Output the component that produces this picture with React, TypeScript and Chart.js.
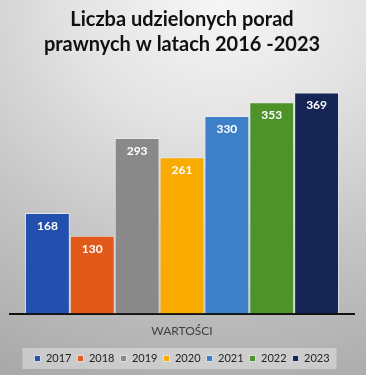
import React, { useEffect, useRef } from "react";
import { Chart, registerables } from "chart.js";

Chart.register(...registerables);

const categories = ["WARTOŚCI"];
const seriesNames = ["2017", "2018", "2019", "2020", "2021", "2022", "2023"];
const seriesValues = [168, 130, 293, 261, 330, 353, 369];
const seriesColors = ["#2350AE", "#E15A1A", "#898989", "#F9AB00", "#3E80C8", "#4E922A", "#152654"];
const titleLines = ["Liczba udzielonych porad", "prawnych w latach 2016 -2023"];

const FONT = "Lato, 'Open Sans', sans-serif";

const valueLabels = {
  id: "valueLabels",
  afterDatasetsDraw(chart: any) {
    const ctx = chart.ctx;
    ctx.save();
    ctx.fillStyle = "#ffffff";
    ctx.font = `bold 12px ${FONT}`;
    ctx.textAlign = "center";
    ctx.textBaseline = "middle";
    chart.data.datasets.forEach((ds: any, i: number) => {
      const meta = chart.getDatasetMeta(i);
      meta.data.forEach((bar: any, j: number) => {
        ctx.fillText(String(ds.data[j]), bar.x, bar.y + 13);
      });
    });
    ctx.restore();
  },
};

const legendBg = {
  id: "legendBg",
  beforeDraw(chart: any) {
    const lg = chart.legend;
    if (!lg || !lg.legendHitBoxes || !lg.legendHitBoxes.length) return;
    const boxes = lg.legendHitBoxes;
    const left = Math.min(...boxes.map((b: any) => b.left)) - 12;
    const right = Math.max(...boxes.map((b: any) => b.left + b.width)) + 7;
    const top = Math.min(...boxes.map((b: any) => b.top)) - 5;
    const bottom = Math.max(...boxes.map((b: any) => b.top + b.height)) + 5;
    const ctx = chart.ctx;
    ctx.save();
    ctx.fillStyle = "rgba(255,255,255,0.35)";
    ctx.fillRect(left, top, right - left, bottom - top);
    ctx.restore();
  },
};

export default function App() {
  const ref = useRef<HTMLCanvasElement | null>(null);
  useEffect(() => {
    if (!ref.current) return;
    const chart = new Chart(ref.current, {
      type: "bar",
      data: {
        labels: categories,
        datasets: seriesNames.map((name, i) => ({
          label: name,
          data: [seriesValues[i]],
          backgroundColor: seriesColors[i],
          borderColor: "rgba(235,235,235,0.8)",
          borderWidth: 1,
          barPercentage: 1,
          categoryPercentage: 0.913,
        })),
      },
      options: {
        animation: false,
        responsive: false,
        maintainAspectRatio: false,
        layout: { padding: { left: 10, right: 12, top: 0, bottom: 1 } },
        scales: {
          x: {
            grid: { display: false },
            border: { display: true, color: "#111111", width: 2 },
            ticks: { color: "#404040", font: { family: FONT, size: 12 }, padding: 2 },
            afterFit(scale: any) {
              scale.height += 7;
            },
          },
          y: { display: false, min: 0, max: 400 },
        },
        plugins: {
          title: {
            display: true,
            text: titleLines,
            color: "#111111",
            font: { family: FONT, size: 20, weight: "bold", lineHeight: 1.25 },
            padding: { top: 7, bottom: 17 },
          },
          legend: {
            position: "bottom",
            labels: {
              boxWidth: 6,
              boxHeight: 6,
              padding: 6,
              color: "#222222",
              font: { family: FONT, size: 11 },
            },
          },
          tooltip: { enabled: false },
        },
      },
      plugins: [valueLabels, legendBg],
    });
    return () => chart.destroy();
  }, []);
  return (
    <div
      style={{
        position: "absolute",
        left: 0,
        top: 0,
        width: 366,
        height: 375,
        background: "radial-gradient(ellipse 130% 110% at 60% 0%, #f6f6f6 0%, #e4e4e4 30%, #c4c4c4 65%, #a9a9a9 100%)",
      }}
    >
      <canvas ref={ref} width={366} height={375} style={{ display: "block" }} />
    </div>
  );
}
